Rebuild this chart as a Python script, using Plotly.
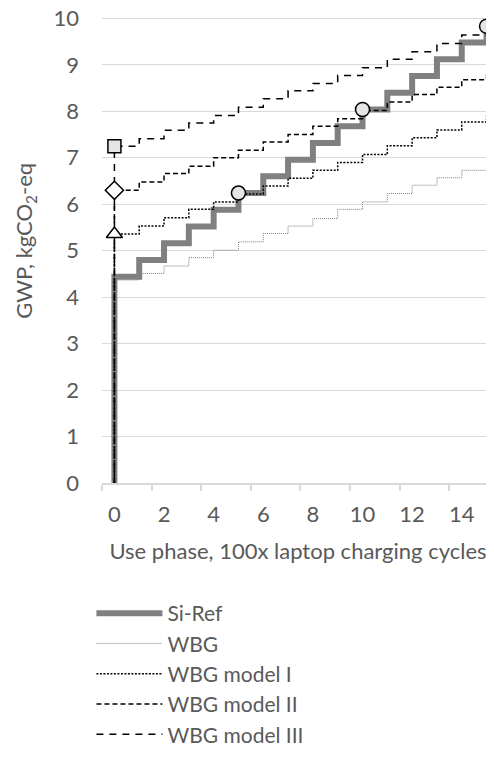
import plotly.graph_objects as go

# Data
cycles = [0, 1, 2, 3, 4, 5, 6, 7, 8, 9, 10, 11, 12, 13, 14, 15]
si_ref = [4.44, 4.80, 5.16, 5.52, 5.88, 6.24, 6.60, 6.96, 7.32, 7.68, 8.04, 8.40, 8.76, 9.12, 9.48, 9.83]
wbg = [4.37, 4.51, 4.67, 4.85, 5.01, 5.19, 5.37, 5.53, 5.69, 5.89, 6.05, 6.23, 6.41, 6.57, 6.73, 6.91]
wbg_m1 = [5.36, 5.53, 5.71, 5.89, 6.05, 6.22, 6.39, 6.56, 6.73, 6.90, 7.07, 7.26, 7.43, 7.60, 7.77, 7.92]
wbg_m2 = [6.30, 6.48, 6.66, 6.82, 7.00, 7.16, 7.34, 7.50, 7.68, 7.84, 8.02, 8.20, 8.36, 8.52, 8.68, 8.86]
wbg_m3 = [7.25, 7.41, 7.59, 7.75, 7.91, 8.09, 8.27, 8.44, 8.60, 8.77, 8.94, 9.12, 9.28, 9.46, 9.64, 9.81]
breakeven_x = [5, 10, 15]
x_ticks = [0, 2, 4, 6, 8, 10, 12, 14]
x_bounds = [-0.5, 1.5, 3.5, 5.5, 7.5, 9.5, 11.5, 13.5, 15.5]
y_ticks = [0, 1, 2, 3, 4, 5, 6, 7, 8, 9, 10]
y_title = "GWP, kgCO<sub>2</sub>-eq"
x_title = "Use phase, 100x laptop charging cycles"

FONT = "Lato"
FS = 22
TXT = "#595959"
GRID = "#d9d9d9"

fig = go.Figure()

def step_line(name, vals, color, width, dash):
    fig.add_trace(go.Scatter(
        x=[cycles[0]] + cycles, y=[0] + vals, name=name, mode="lines",
        line=dict(color=color, width=width, dash=dash, shape="hv"),
    ))

step_line("Si-Ref", si_ref, "#808080", 6, "solid")
step_line("WBG", wbg, "#7f7f7f", 1, "1px,1px")
step_line("WBG model I", wbg_m1, "#000000", 1.5, "2px,1.5px")
step_line("WBG model II", wbg_m2, "#000000", 1.5, "5px,3px")
step_line("WBG model III", wbg_m3, "#000000", 1.5, "7px,6px")

# start markers
fig.add_trace(go.Scatter(x=[0], y=[wbg_m1[0]], mode="markers", showlegend=False,
                         marker=dict(symbol="triangle-up", size=14, color="white",
                                     line=dict(color="black", width=1.5))))
fig.add_trace(go.Scatter(x=[0], y=[wbg_m2[0]], mode="markers", showlegend=False,
                         marker=dict(symbol="diamond", size=14, color="white",
                                     line=dict(color="black", width=1.5))))
fig.add_trace(go.Scatter(x=[0], y=[wbg_m3[0]], mode="markers", showlegend=False,
                         marker=dict(symbol="square", size=13, color="#e7e6e6",
                                     line=dict(color="black", width=1.5))))
# break-even circles
fig.add_trace(go.Scatter(x=breakeven_x, y=[si_ref[cycles.index(v)] for v in breakeven_x],
                         mode="markers", showlegend=False,
                         marker=dict(symbol="circle", size=14, color="#e7e6e6",
                                     line=dict(color="black", width=1.5))))

# the page body adds an 8px offset, so margins are shifted accordingly
fig.update_layout(
    width=494, height=758,
    margin=dict(l=94, r=8, t=9, b=283, autoexpand=False),
    paper_bgcolor="white", plot_bgcolor="white",
    font=dict(family=FONT, size=FS, color=TXT),
    showlegend=True,
    legend=dict(x=-0.027, y=-0.236, xanchor="left", yanchor="top",
                orientation="v", itemwidth=66, font=dict(family=FONT, size=21, color=TXT),
                bgcolor="rgba(0,0,0,0)"),
    annotations=[dict(text=y_title, xref="paper", yref="paper", x=-0.196, y=0.52,
                      xanchor="center", yanchor="middle", textangle=-90, showarrow=False,
                      font=dict(family=FONT, size=FS, color=TXT))],
)

fig.update_xaxes(
    range=[-0.5, 15.3], tickmode="array", tickvals=x_ticks,
    ticktext=[str(v) for v in x_ticks], ticks="", showgrid=False, zeroline=False,
    showline=True, linecolor=GRID, linewidth=1.5, ticklabelstandoff=11,
    tickfont=dict(family=FONT, size=FS, color=TXT),
    minor=dict(tickmode="array", tickvals=x_bounds, ticks="outside", ticklen=6,
               tickcolor=GRID, tickwidth=1.5, showgrid=False),
    title=dict(text=x_title, standoff=17, font=dict(family=FONT, size=FS, color=TXT)),
    automargin=False,
)
fig.update_yaxes(
    range=[0, 10.03], tickmode="array", tickvals=y_ticks, ticks="",
    showgrid=True, gridcolor=GRID, gridwidth=1.3, zeroline=False, showline=False,
    ticklabelstandoff=22, ticklabeloverflow="allow",
    tickfont=dict(family=FONT, size=FS, color=TXT),
    automargin=False,
)

fig.write_html("out.html")
